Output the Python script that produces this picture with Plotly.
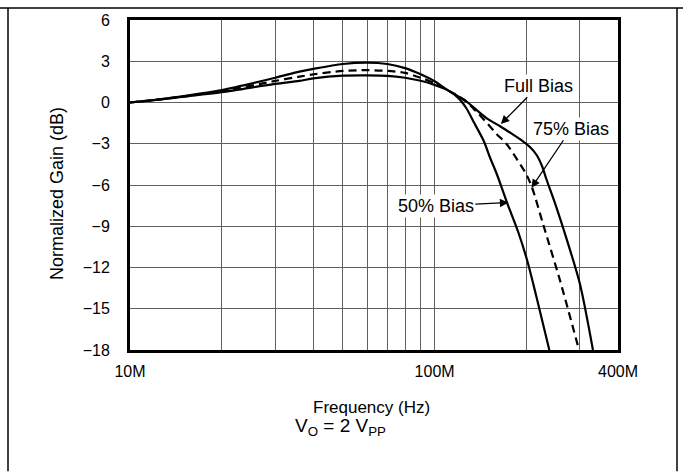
import numpy as np
import plotly.graph_objects as go

# ---- data (frequency in MHz, normalized gain in dB) ----
full_f = [10, 12, 15, 20, 30, 36, 40, 50, 60, 70, 80, 90, 100, 110, 127, 148, 164, 180, 195, 206, 216, 225, 233, 250, 271, 300, 331]
full_g = [0, 0.18, 0.47, 0.9, 1.8, 2.25, 2.45, 2.8, 2.9, 2.8, 2.5, 2.05, 1.55, 0.92, 0.08, -1.13, -1.73, -2.3, -2.82, -3.25, -3.8, -4.6, -5.6, -7.5, -9.9, -13.2, -18]

b75_f = [10, 12, 15, 20, 30, 36, 40, 50, 60, 70, 80, 90, 100, 110, 125, 137, 150, 160, 172, 186, 200, 209, 227, 258, 298]
b75_g = [0, 0.18, 0.45, 0.82, 1.57, 1.88, 2.05, 2.3, 2.35, 2.3, 2.15, 1.8, 1.4, 0.92, 0.2, -0.65, -1.6, -2.3, -3.0, -4.1, -5.22, -6.2, -8.84, -12.94, -18]

b50_f = [10, 12, 15, 20, 30, 36, 40, 50, 60, 70, 80, 90, 100, 110, 120, 127, 134, 145, 152, 160, 173, 188, 202, 216, 238]
b50_g = [0, 0.17, 0.42, 0.75, 1.35, 1.57, 1.75, 1.95, 1.97, 1.94, 1.8, 1.58, 1.28, 0.92, 0.3, -0.4, -1.37, -2.8, -4.0, -5.2, -7.3, -9.4, -11.6, -14.15, -18]

x_tick_mhz = [10, 100, 400]
x_tick_text = ["10M", "100M", "400M"]
x_minor_grid_mhz = [20, 30, 40, 50, 60, 70, 80, 90, 200, 300]
y_ticks = [6, 3, 0, -3, -6, -9, -12, -15, -18]
y_tick_text = ["6", "3", "0", "\u22123", "\u22126", "\u22129", "\u221212", "\u221215", "\u221218"]

FONT = "Liberation Sans, Arial, Helvetica, sans-serif"
GRID = "#606060"

def hz(lst):
    return [v * 1e6 for v in lst]

fig = go.Figure()
fig.add_trace(go.Scatter(x=hz(full_f), y=full_g, mode="lines", name="Full Bias",
                         line=dict(color="black", width=2.2, shape="spline", smoothing=0.8)))
fig.add_trace(go.Scatter(x=hz(b75_f), y=b75_g, mode="lines", name="75% Bias",
                         line=dict(color="black", width=2.2, dash="8px,5px", shape="spline", smoothing=0.8)))
fig.add_trace(go.Scatter(x=hz(b50_f), y=b50_g, mode="lines", name="50% Bias",
                         line=dict(color="black", width=2.2, shape="spline", smoothing=0.8)))

fig.update_xaxes(type="log", range=[7, np.log10(4e8)],
                 tickvals=hz(x_tick_mhz), ticktext=x_tick_text,
                 showgrid=True, gridcolor=GRID, gridwidth=1.2,
                 minor=dict(tickvals=hz(x_minor_grid_mhz), showgrid=True,
                            gridcolor=GRID, gridwidth=1.2, ticks=""),
                 showline=True, linecolor="black", linewidth=3, mirror=True,
                 ticks="", ticklabelstandoff=5,
                 tickfont=dict(family=FONT, size=16, color="black"),
                 zeroline=False)
fig.update_yaxes(range=[-18, 6], tickvals=y_ticks, ticktext=y_tick_text,
                 showgrid=True, gridcolor=GRID, gridwidth=1.2,
                 showline=True, linecolor="black", linewidth=3, mirror=True,
                 ticks="", ticklabelstandoff=14,
                 tickfont=dict(family=FONT, size=16, color="black"),
                 zeroline=False)

W, H = 683, 472
L, R, T, B = 130, 618, 18, 350
pw, ph = R - L, B - T

def px(xp):
    return (xp - L) / pw

def py(yp):
    return (B - yp) / ph

label_font = dict(family=FONT, size=18, color="black")
arrow_kw = dict(showarrow=True, arrowhead=2, arrowsize=1.3, arrowwidth=1.3,
                arrowcolor="black", bgcolor="white", font=label_font,
                xref="x", yref="y", axref="pixel", ayref="pixel")

annotations = [
    # curve labels with arrows (x, y = arrow tip; ax, ay = label offset in px)
    dict(text="Full Bias", x=np.log10(165e6), y=-1.565, ax=37.8, ay=-38.2, **arrow_kw),
    dict(text="75% Bias", x=np.log10(208e6), y=-6.2, ax=39.7, ay=-59, **arrow_kw),
    dict(text="50% Bias", x=np.log10(174.6e6), y=-7.277, ax=-72.5, ay=3.3, **arrow_kw),
    # axis titles
    dict(text="Frequency (Hz)", x=px(371), y=py(407.5), xref="paper", yref="paper",
         showarrow=False, font=dict(family=FONT, size=17, color="black"),
         xanchor="center", yanchor="middle"),
    dict(text="V<sub>O</sub> = 2 V<sub>PP</sub>", x=px(340.5), y=py(427), xref="paper", yref="paper",
         showarrow=False, font=dict(family=FONT, size=19, color="black"),
         xanchor="center", yanchor="middle"),
    dict(text="Normalized Gain (dB)", x=px(57), y=py(193), xref="paper", yref="paper",
         showarrow=False, textangle=-90, font=dict(family=FONT, size=18, color="black"),
         xanchor="center", yanchor="middle"),
]

shapes = [
    dict(type="line", xref="paper", yref="paper", x0=px(0), x1=px(683), y0=py(6), y1=py(6),
         line=dict(color="black", width=1.5)),
    dict(type="line", xref="paper", yref="paper", x0=px(8), x1=px(8), y0=py(6), y1=py(472),
         line=dict(color="black", width=1.5)),
    dict(type="line", xref="paper", yref="paper", x0=px(677), x1=px(677), y0=py(6), y1=py(472),
         line=dict(color="black", width=1.5)),
]

fig.update_layout(width=W, height=H, margin=dict(l=L, r=W - R, t=T, b=H - B),
                  paper_bgcolor="white", plot_bgcolor="white", showlegend=False,
                  annotations=annotations, shapes=shapes,
                  font=dict(family=FONT, color="black"))

fig.write_html("out.html", config={"displayModeBar": False},
               post_script="document.body.style.margin='0';document.body.style.overflow='hidden';")
